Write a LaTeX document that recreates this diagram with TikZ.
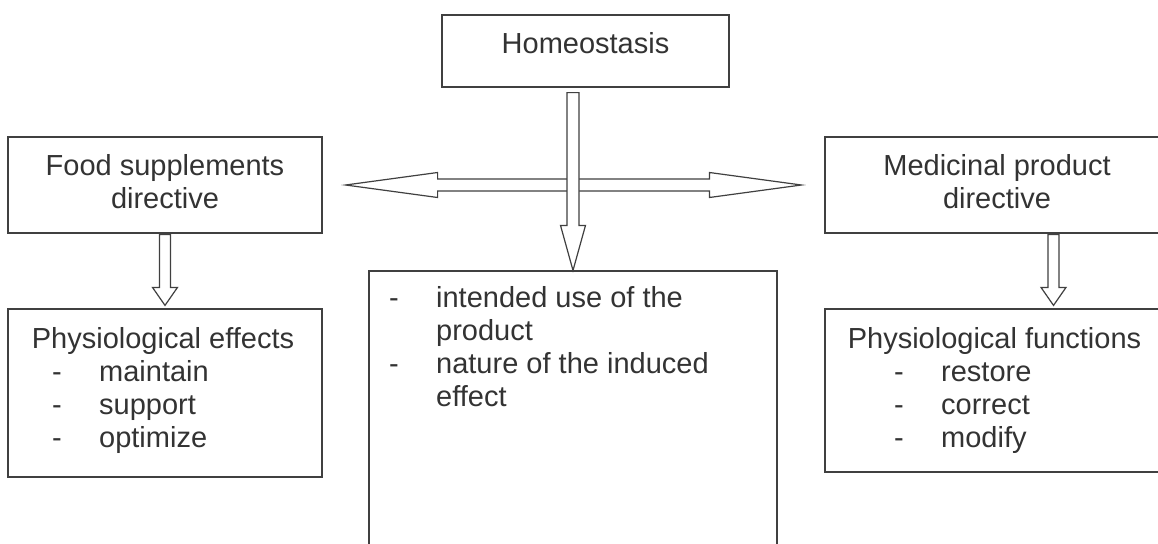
\documentclass[tikz,border=0pt]{standalone}
\usepackage{fontspec}
\setmainfont{Liberation Sans}
\usetikzlibrary{calc}
\definecolor{linec}{HTML}{404040}
\definecolor{textc}{HTML}{333333}
\newcommand\dashitem{\makebox[47pt][l]{-}}
\newcommand\hollowdown[5]{% #1 start, #2 tip, #3 shaft half, #4 head half, #5 head length
  \draw[harrow] let \p1=(#1), \p2=(#2) in
    (\x2-#3,\y1) -- (\x2-#3,\y2+#5) -- (\x2-#4,\y2+#5) -- (\x2,\y2)
    -- (\x2+#4,\y2+#5) -- (\x2+#3,\y2+#5) -- (\x2+#3,\y1) -- cycle;}
\tikzset{
  box/.style={draw=linec, line width=1.2pt, inner sep=0pt, rectangle},
  txt/.style={inner sep=0pt, anchor=base, text=textc},
  harrow/.style={draw=linec, line width=1.2pt, fill=white, line join=miter},
}
\begin{document}
\begin{tikzpicture}[x=1pt, y=-1pt, font=\fontsize{29pt}{33pt}\selectfont]
\useasboundingbox (0,0) rectangle (1158,543);
\clip (0,0) rectangle (1158,543);
\fill[white] (0,0) rectangle (1158,543);

% boxes
\node[box, minimum width=287pt, minimum height=72pt] (homeo) at (585.5,51) {};
\node[box, minimum width=314pt, minimum height=96pt] (food) at (165,185) {};
\node[box, minimum width=314pt, minimum height=168pt] (effects) at (165,393) {};
\node[box, minimum width=344pt, minimum height=96pt] (med) at (997,185) {};
\node[box, minimum width=344pt, minimum height=163pt] (funcs) at (997,390.5) {};
\node[box, minimum width=408pt, minimum height=289pt] (cbox) at (573,415.5) {};

% texts
\node[txt] (homeoT) at (585.5,53) {Homeostasis};
\node[txt] (foodT) at (165,175) {\begin{tabular}[t]{@{}c@{}}Food supplements\\directive\end{tabular}};
\node[txt] (medT) at (997,175) {\begin{tabular}[t]{@{}c@{}}Medicinal product\\directive\end{tabular}};
\node[txt] (effT) at (163,348) {Physiological effects};
\node[txt, anchor=base west] (effL) at (52,381) {\begin{tabular}[t]{@{}l@{}}\dashitem maintain\\\dashitem support\\\dashitem optimize\end{tabular}};
\node[txt] (funT) at (994.5,348) {Physiological functions};
\node[txt, anchor=base west] (funL) at (894,381) {\begin{tabular}[t]{@{}l@{}}\dashitem restore\\\dashitem correct\\\dashitem modify\end{tabular}};
\node[txt, anchor=base west] (cT) at (389,307) {\begin{tabular}[t]{@{}l@{}}\dashitem intended use of the\\\hspace*{47pt}product\\\dashitem nature of the induced\\\hspace*{47pt}effect\end{tabular}};

% double arrow
\coordinate (dl) at ([xshift=23pt]food.east);
\coordinate (dr) at ([xshift=-23pt]med.west);
\draw[harrow] let \p1=(dl), \p2=(dr) in
  (\p1) -- (\x1+92pt,\y1+12.5pt) -- (\x1+92pt,\y1+6pt) -- (\x2-92pt,\y1+6pt)
  -- (\x2-92pt,\y1+12.5pt) -- (\p2) -- (\x2-92pt,\y1-12.5pt) -- (\x2-92pt,\y1-6pt)
  -- (\x1+92pt,\y1-6pt) -- (\x1+92pt,\y1-12.5pt) -- cycle;

% down arrows
\hollowdown{[yshift=-5pt]homeo.south}{cbox.north}{6pt}{12.5pt}{45pt}
\hollowdown{[yshift=-1pt]food.south}{[yshift=3pt]effects.north}{5.5pt}{12.5pt}{18pt}
\hollowdown{[yshift=-1pt]med.south}{[xshift=56.5pt,yshift=3pt]funcs.north}{5.5pt}{12.5pt}{18pt}
\end{tikzpicture}
\end{document}
